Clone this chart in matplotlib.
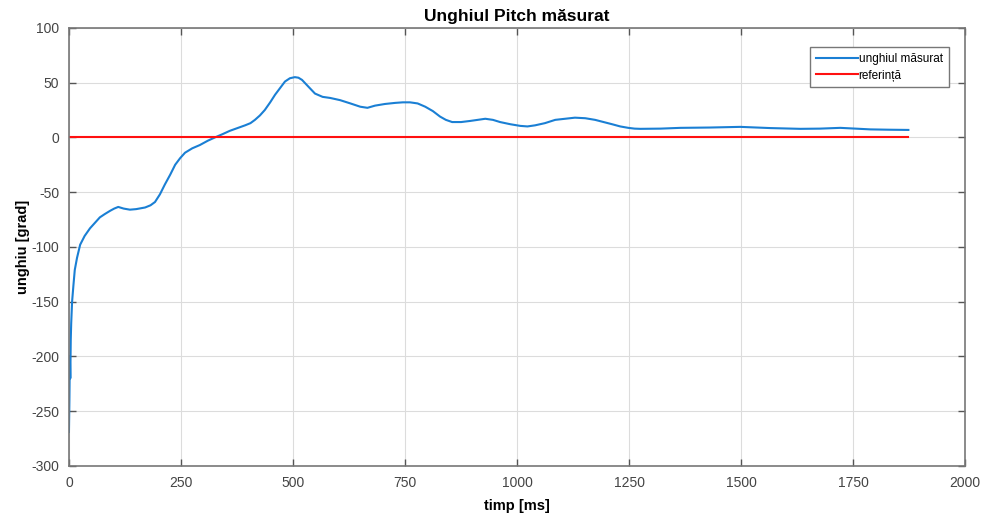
import numpy as np
import matplotlib
matplotlib.use('Agg')
import matplotlib.pyplot as plt

plt.rcParams['font.family'] = ['Liberation Sans', 'DejaVu Sans']
plt.rcParams['axes.unicode_minus'] = False

# masurat
t_ms = [0, 1, 2, 3, 4, 5, 7, 10, 13, 18, 25, 35, 47, 58, 69, 80, 92, 101, 110, 122,
        136, 150, 170, 182, 192, 203, 214, 226, 237, 248, 259, 275, 292, 310, 326, 343,
        359, 376, 393, 405, 415, 426, 437, 449, 460, 471, 482, 493, 504, 512, 520, 535,
        549, 566, 583, 594, 605, 628, 650, 666, 683, 705, 728, 745, 761, 778, 795, 812,
        828, 841, 855, 875, 895, 912, 929, 946, 962, 985, 1007, 1023, 1040, 1062, 1085,
        1107, 1129, 1152, 1174, 1193, 1212, 1230, 1248, 1262, 1275, 1320, 1364, 1430,
        1498, 1565, 1632, 1676, 1721, 1755, 1788, 1830, 1873]
pitch = [-269, -240, -200, -220, -185, -170, -150, -135, -121, -110, -98, -90, -83, -78,
         -73, -70, -67, -65, -63.5, -65, -66, -65.5, -64, -62, -59, -52, -43, -34, -25,
         -19, -14, -10, -7, -3, 0, 3, 6, 8.5, 11, 13, 16, 20, 25, 32, 39, 45, 51, 54, 55,
         54.5, 52.5, 46, 40, 37, 36, 35, 34, 31, 28, 27, 29, 30.5, 31.5, 32, 32, 31, 28,
         24, 19, 16, 14, 14, 15, 16, 17, 16, 14, 12, 10.5, 10, 11, 13, 16, 17, 18, 17.5,
         16, 14, 12, 10, 8.7, 8, 7.8, 8, 8.7, 9, 9.6, 8.5, 7.8, 8, 8.7, 8, 7.3, 7, 6.8]
ref_t = [0, 1873]
ref_val = [0, 0]

fig = plt.figure(figsize=(9.85, 5.16), dpi=100)
ax = fig.add_axes([0.070, 0.097, 0.910, 0.849])

ax.plot(t_ms, pitch, color='#1a7fd4', linewidth=1.5, label='unghiul măsurat')
ax.plot(ref_t, ref_val, color='#ff1010', linewidth=1.5, label='referință')

ax.set_xlim(0, 2000)
ax.set_ylim(-300, 100)
ax.set_xticks(np.arange(0, 2001, 250))
ax.set_yticks(np.arange(-300, 101, 50))
ax.grid(True, color='#dcdcdc', linewidth=0.8)
ax.set_axisbelow(True)
ax.tick_params(direction='in', top=True, right=True, length=5, width=1,
               colors='#555555', labelsize=10, labelcolor='#444444', pad=7)
for s in ax.spines.values():
    s.set_color('#777777')
    s.set_linewidth(1.2)

ax.set_title('Unghiul Pitch măsurat', fontsize=12.5, fontweight='bold', pad=5)
ax.set_xlabel('timp [ms]', fontsize=10.5, fontweight='bold', labelpad=7)
ax.set_ylabel('unghiu [grad]', fontsize=10.5, fontweight='bold', labelpad=1)

leg = ax.legend(loc='upper right', bbox_to_anchor=(0.988, 0.97),
                prop={'size': 8.5},
                handlelength=3.6, handletextpad=0.05, borderpad=0.5, labelspacing=0.4,
                fancybox=False, framealpha=1)
leg.get_frame().set_edgecolor('#777777')
leg.get_frame().set_linewidth(1.0)

fig.savefig('out.png', dpi=100)
